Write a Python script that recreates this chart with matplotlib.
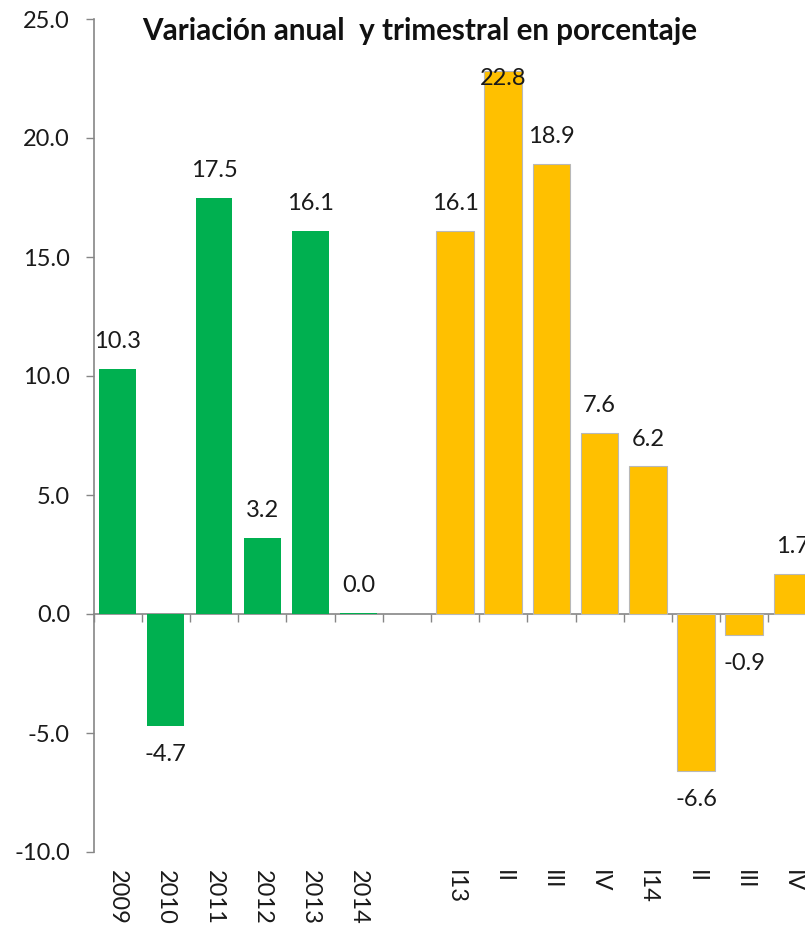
import numpy as np
import matplotlib
matplotlib.use("Agg")
import matplotlib.pyplot as plt

# annual values, then quarterly values (blank slot between the two groups)
years = ["2009", "2010", "2011", "2012", "2013", "2014"]
annual = [10.3, -4.7, 17.5, 3.2, 16.1, 0.04]
quarters = ["I13", "II", "III", "IV", "I14", "II", "III", "IV"]
quarterly = [16.1, 22.8, 18.9, 7.6, 6.2, -6.6, -0.9, 1.7]

title = "Variación anual  y trimestral en porcentaje"
green = "#00B050"
yellow = "#FFC000"
grey = "#868686"

plt.rcParams["font.family"] = ["Lato", "DejaVu Sans"]

labels = years + [""] + quarters
x_year = np.arange(len(years))
x_quar = np.arange(len(quarters)) + len(years) + 1
ymin, ymax = -10, 25

fig = plt.figure(figsize=(8.05, 9.25), dpi=100)
ax = fig.add_axes([93.5 / 805, 73 / 925, 723 / 805, 833 / 925])

ax.bar(x_year, annual, width=0.76, color=green, edgecolor="none", zorder=2)
ax.bar(x_quar, quarterly, width=0.78, color=yellow, edgecolor="#B8B8B8",
       linewidth=0.8, zorder=2)

# value labels
for xs, vals in ((x_year, annual), (x_quar, quarterly)):
    for x, v in zip(xs, vals):
        if v >= 0:
            y = min(v + 1.15, 22.5)
        else:
            y = v - 1.2
        ax.text(x, y, f"{v:.1f}", ha="center", va="center", fontsize=17,
                color="#1a1a1a", zorder=3)

ax.set_xlim(-0.5, len(labels) - 0.5)
ax.set_ylim(ymin, ymax)
ax.set_yticks(np.arange(ymin, ymax + 1, 5))
ax.set_yticklabels([f"{t:.1f}" for t in np.arange(ymin, ymax + 1, 5)])
ax.tick_params(axis="y", length=6, width=1, color=grey, pad=11,
               labelsize=17, labelcolor="#1a1a1a")

# category labels under the plot, rotated
ax.set_xticks(np.arange(len(labels)))
ax.set_xticklabels(labels, rotation=270, ha="center", va="top")
ax.tick_params(axis="x", length=0, pad=13, labelsize=17, labelcolor="#1a1a1a")

for side in ("top", "right", "bottom"):
    ax.spines[side].set_visible(False)
ax.spines["left"].set_color(grey)
ax.spines["left"].set_linewidth(1.2)

# zero line with ticks between categories
zero = ax.secondary_xaxis((0 - ymin) / (ymax - ymin))
zero.set_xticks(np.arange(len(labels) + 1) - 0.5)
zero.set_xticklabels([])
zero.tick_params(axis="x", direction="out", length=6, width=1, color=grey)
zero.spines["bottom"].set_color(grey)
zero.spines["bottom"].set_linewidth(1.2)
for side in ("top", "left", "right"):
    zero.spines[side].set_visible(False)

fig.text(420 / 805, 1 - 31 / 925, title, ha="center", va="center",
         fontsize=21.3, fontweight="bold", color="#111111")

fig.savefig("out.png", dpi=100)
